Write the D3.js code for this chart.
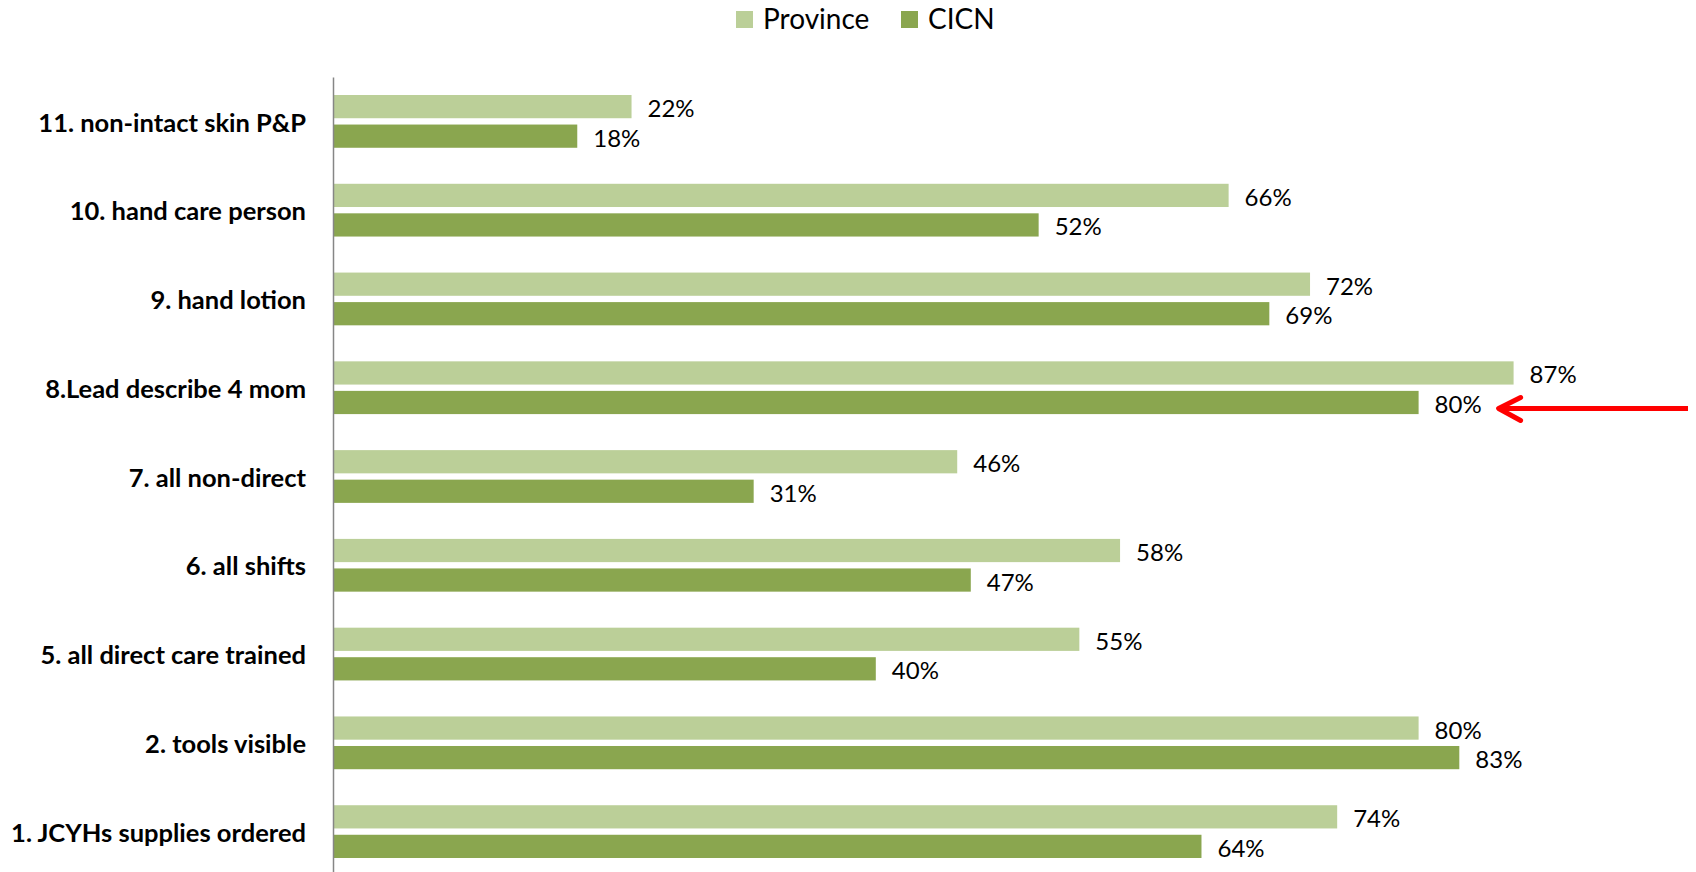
<!DOCTYPE html>
<html><head><meta charset="utf-8">
<script src="https://cdn.jsdelivr.net/npm/d3@7"></script>
<style>
html,body{margin:0;padding:0;background:#fff;overflow:hidden;}
svg{display:block;font-family:Lato, "Open Sans", sans-serif;}
</style></head>
<body>
<svg id="chart" width="1696" height="872"></svg>
<script>
const categories = ["11. non-intact skin P&P","10. hand care person","9. hand lotion","8.Lead describe 4 mom","7. all non-direct","6. all shifts","5. all direct care trained","2. tools visible","1. JCYHs supplies ordered"];
const seriesNames = ["Province","CICN"];
const provinceValues = [0.22,0.66,0.72,0.87,0.46,0.58,0.55,0.80,0.74];
const cicnValues = [0.18,0.52,0.69,0.80,0.31,0.47,0.40,0.83,0.64];
const colors = ["#BBCF98","#8AA64F"];
const highlightCategory = "8.Lead describe 4 mom";

const svg = d3.select("#chart");
const margin = {left:333, right:6, top:77, bottom:-4};
const W = 1696, H = 872;

const x = d3.scaleLinear().domain([0,1]).range([margin.left, W - margin.right]);
const y = d3.scaleBand().domain(categories).range([margin.top, H - margin.bottom]).padding(0);
const sub = d3.scaleBand().domain(seriesNames).range([0, y.bandwidth()]).paddingInner(0.2136).paddingOuter(0.61);

const data = categories.map((c,i)=>({cat:c, vals:[provinceValues[i], cicnValues[i]]}));

const g = svg.append("g");
const groups = g.selectAll("g.cat").data(data).join("g").attr("class","cat")
  .attr("transform", d=>`translate(0,${y(d.cat)})`);

groups.selectAll("rect").data(d=>d.vals.map((v,j)=>({s:seriesNames[j], v, j})))
  .join("rect")
  .attr("x", x(0))
  .attr("y", d=>sub(d.s))
  .attr("width", d=>x(d.v)-x(0))
  .attr("height", sub.bandwidth())
  .attr("fill", d=>colors[d.j]);

groups.selectAll("text.val").data(d=>d.vals.map((v,j)=>({s:seriesNames[j], v, j})))
  .join("text").attr("class","val")
  .attr("x", d=>x(d.v)+16)
  .attr("y", d=>sub(d.s)+sub.bandwidth()/2+1)
  .attr("dominant-baseline","central")
  .attr("font-size", 24)
  .attr("fill","#000")
  .text(d=>d3.format(".0%")(d.v));

// category axis
const yAxis = d3.axisLeft(y).tickSize(0).tickPadding(27);
const ax = svg.append("g").attr("transform",`translate(${x(0)},0)`).call(yAxis);
ax.select(".domain").attr("stroke","#868686").attr("stroke-width",1.5);
ax.selectAll("text").attr("font-size",25.5).attr("font-weight","bold").attr("fill","#000")
  .attr("font-family","Lato, 'Open Sans', sans-serif").attr("dy","0.4em");

// legend
const legendX = [736, 901];
const lg = svg.append("g");
seriesNames.forEach((s,i)=>{
  lg.append("rect").attr("x",legendX[i]).attr("y",11).attr("width",17).attr("height",17).attr("fill",colors[i]);
  lg.append("text").attr("x",legendX[i]+27).attr("y",29).attr("font-size",28).attr("fill","#000").text(s);
});

// red arrow annotation pointing at highlighted CICN label
const ci = categories.indexOf(highlightCategory);
const ay = y(highlightCategory) + sub("CICN") + sub.bandwidth()/2 + 6;
const tipX = x(cicnValues[ci]) + 80;
const endX = x(1) - 2;
const arrow = svg.append("g").attr("stroke","#FF0000").attr("stroke-width",5).attr("fill","none").attr("stroke-linecap","round");
arrow.append("line").attr("x1",tipX+2).attr("y1",ay).attr("x2",endX).attr("y2",ay).attr("stroke-linecap","butt");
arrow.append("path").attr("d",`M${tipX+22},${ay-11} L${tipX},${ay} L${tipX+22},${ay+12}`).attr("stroke-linejoin","round");
</script>
</body></html>
